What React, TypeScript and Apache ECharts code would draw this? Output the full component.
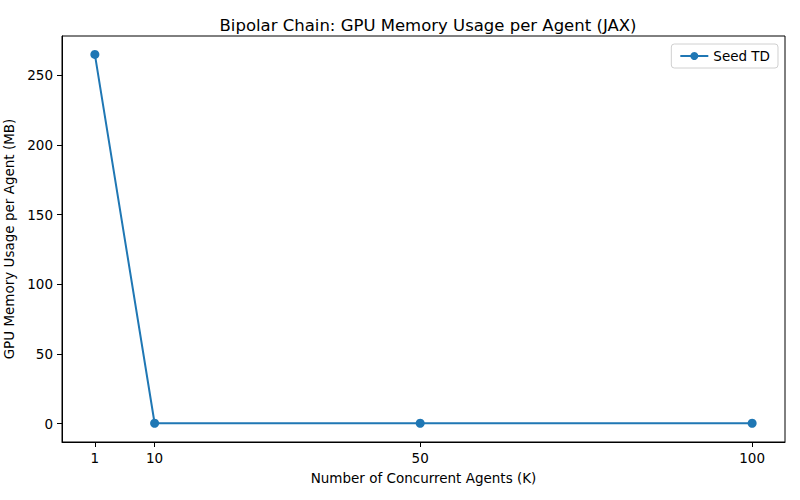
import React, { useEffect, useRef } from "react";
import * as echarts from "echarts";

const agents = [1, 10, 50, 100];
const memoryMB = [265, 0.2, 0.2, 0.2];
const xTicks = [1, 10, 50, 100];
const yTicks = [0, 50, 100, 150, 200, 250];

const FONT = "DejaVu Sans";
const BLUE = "#1f77b4";

export default function App() {
  const ref = useRef<HTMLDivElement>(null);
  useEffect(() => {
    if (!ref.current) return;
    const chart = echarts.init(ref.current, null, { renderer: "svg" });
    chart.setOption({
      animation: false,
      backgroundColor: "#fff",
      textStyle: { fontFamily: FONT },
      title: {
        text: "Bipolar Chain: GPU Memory Usage per Agent (JAX)",
        left: 423,
        textAlign: "center",
        top: 12,
        textStyle: { fontFamily: FONT, fontSize: 16.5, fontWeight: "normal", color: "#000" },
      },
      legend: {
        right: 22,
        top: 44,
        orient: "vertical",
        data: ["Seed TD"],
        borderColor: "#d0d0d0",
        borderWidth: 1,
        borderRadius: 3,
        padding: [5, 8, 5, 8],
        itemWidth: 28,
        itemHeight: 10,
        itemGap: 8,
        textStyle: { fontFamily: FONT, fontSize: 13.5, color: "#000" },
      },
      grid: {
        left: 62,
        right: 15,
        top: 36,
        bottom: 58,
        containLabel: false,
        outerBoundsMode: "none",
        show: true,
        borderColor: "#000",
        borderWidth: 1,
        backgroundColor: "transparent",
      },
      xAxis: {
        type: "value",
        min: -3.95,
        max: 104.95,
        name: "Number of Concurrent Agents (K)",
        nameLocation: "middle",
        nameGap: 29,
        nameTextStyle: { fontFamily: FONT, fontSize: 13.5, color: "#000" },
        axisLine: { show: true, onZero: false, lineStyle: { color: "#000", width: 1 } },
        axisTick: { show: true, customValues: xTicks, length: 5, lineStyle: { color: "#000" } },
        axisLabel: { customValues: xTicks, fontFamily: FONT, fontSize: 13.5, color: "#000", margin: 9 },
        splitLine: { show: false },
      },
      yAxis: {
        type: "value",
        min: -13.25,
        max: 278.25,
        name: "GPU Memory Usage per Agent (MB)",
        nameLocation: "middle",
        nameGap: 40,
        nameTextStyle: { fontFamily: FONT, fontSize: 13.5, color: "#000" },
        axisLine: { show: true, onZero: false, lineStyle: { color: "#000", width: 1 } },
        axisTick: { show: true, customValues: yTicks, length: 5, lineStyle: { color: "#000" } },
        axisLabel: { customValues: yTicks, fontFamily: FONT, fontSize: 13.5, color: "#000", margin: 9 },
        splitLine: { show: false },
      },
      series: [
        {
          name: "Seed TD",
          type: "line",
          data: agents.map((a, i) => [a, memoryMB[i]]),
          symbol: "circle",
          symbolSize: 9,
          itemStyle: { color: BLUE },
          lineStyle: { color: BLUE, width: 2 },
        },
      ],
    });
    return () => chart.dispose();
  }, []);
  return (
    <div
      ref={ref}
      style={{ position: "fixed", left: 0, top: 0, width: 800, height: 500 }}
    />
  );
}
